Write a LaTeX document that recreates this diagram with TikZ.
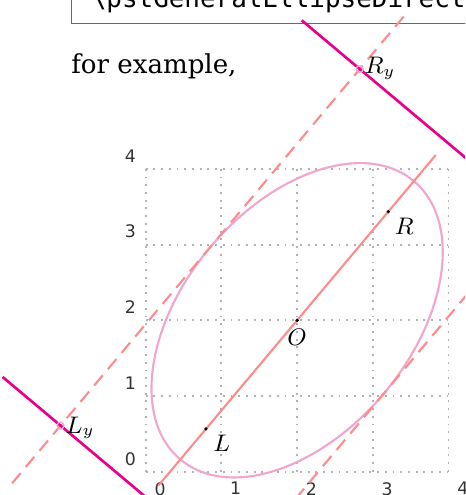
\documentclass[tikz,border=0pt]{standalone}
\usepackage{fontspec}
\setmainfont{DejaVu Serif}
\newfontfamily\codefont{DejaVu Sans Mono}
\newfontfamily\tickfont{DejaVu Sans}
\usepackage{tikz}
\usetikzlibrary{calc}
\definecolor{ellcol}{RGB}{242,165,205}
\definecolor{axcol}{RGB}{255,140,140}
\definecolor{dircol}{RGB}{232,0,140}
\definecolor{framecol}{RGB}{105,105,105}

\begin{document}
\begin{tikzpicture}[
  gridline/.style={gray!60, line width=0.7pt, dash pattern=on 0.7pt off 2.2pt},
  tick/.style={font=\tickfont\fontsize{6.5}{7}\selectfont, text=black!80},
  axisline/.style={axcol, line width=0.8pt},
  tangline/.style={axcol, line width=0.8pt, dash pattern=on 5pt off 3pt},
  dirline/.style={dircol, line width=1pt},
  lbl/.style={font=\fontsize{9}{10}\selectfont, inner sep=0pt},
  codebox/.style={draw=framecol, line width=0.6pt, anchor=south west,
                  inner xsep=0.255cm, inner ysep=0.216cm, text depth=0pt,
                  font=\codefont\fontsize{9.75}{12}\selectfont}]
\useasboundingbox (-1.925,-0.308) rectangle (4.218,6.231);
\clip (-1.925,-0.308) rectangle (4.218,6.231);
% ---- page text ----
\node[codebox] (code) at (-0.991,5.910) {\textbackslash pstGeneralEllipseDirect};
\node[anchor=base west, inner sep=0pt, font=\fontsize{9.8}{12}\selectfont]
  (txt) at (-0.99,5.254) {for example,};
% ---- grid ----
\draw[gridline] (0,0) grid (4,4);
\foreach \k in {0,...,4} {
  \node[tick, anchor=south east, inner xsep=3.5pt, inner ysep=2.2pt] (ty\k) at (0,\k) {\k};
  \node[tick, anchor=north west, inner xsep=3.1pt, inner ysep=3.8pt] (tx\k) at (\k,0) {\k};
}
% ---- ellipse, foci, directrices ----
\coordinate (O) at (2,2);
\coordinate (R) at ($(O)+(50:1.8735)$);
\coordinate (L) at ($(O)+(230:1.8735)$);
\coordinate (Ry) at ($(O)+(50:3.0745)+(140:1.5)$);
\coordinate (Ly) at ($(O)+(230:3.0745)+(140:1.5)$);
\coordinate (ax1) at ($(O)+(230:2.85)$);
\coordinate (ax2) at ($(O)+(50:2.85)$);
\coordinate (ta1) at ($(O)+(140:1.5)+(230:4.07)$);
\coordinate (ta2) at ($(O)+(140:1.5)+(50:4.07)$);
\coordinate (tb1) at ($(O)+(-40:1.5)+(230:4.07)$);
\coordinate (tb2) at ($(O)+(-40:1.5)+(50:4.07)$);
\coordinate (dr1) at ($(O)+(50:3.0745)+(140:2.5)$);
\coordinate (dr2) at ($(O)+(50:3.0745)+(-40:2.5)$);
\coordinate (dl1) at ($(O)+(230:3.0745)+(140:2.5)$);
\coordinate (dl2) at ($(O)+(230:3.0745)+(-40:2.5)$);
\draw[ellcol, line width=0.8pt, rotate around={50:(O)}] (O) ellipse [x radius=2.4, y radius=1.5];
\draw[axisline] (ax1) -- (ax2);
\draw[tangline] (ta1) -- (ta2);
\draw[tangline] (tb1) -- (tb2);
\draw[dirline] (dr1) -- (dr2);
\draw[dirline] (dl1) -- (dl2);
\draw[ellcol, line width=0.5pt] (Ry) circle (1.3pt) (Ly) circle (1.3pt);
\foreach \p in {O,L,R} \fill (\p) circle (0.7pt);
% ---- labels ----
\node[lbl] (Rlab) at ($(R)+(0.21,-0.19)$) {$R$};
\node[lbl] (Llab) at ($(L)+(0.21,-0.19)$) {$L$};
\node[lbl] (Olab) at ($(O)+(0,-0.22)$) {$O$};
\node[lbl] (Rylab) at ($(Ry)+(0.27,0.01)$) {$R_y$};
\node[lbl] (Lylab) at ($(Ly)+(0.26,-0.03)$) {$L_y$};
\end{tikzpicture}
\end{document}
